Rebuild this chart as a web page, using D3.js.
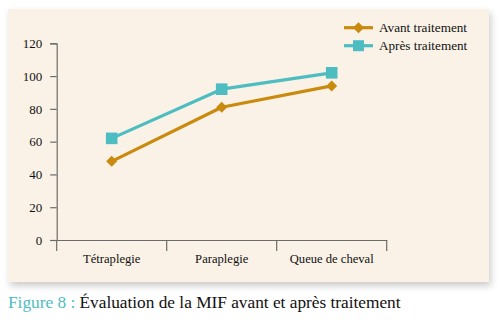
<!DOCTYPE html>
<html><head><meta charset="utf-8">
<script src="https://cdn.jsdelivr.net/npm/d3@7"></script>
<style>html,body{margin:0;padding:0;background:#fff;}svg{display:block;}</style>
</head><body>
<svg id="chart" width="500" height="322"></svg>
<script>
const categories = ["Tétraplegie", "Paraplegie", "Queue de cheval"];
const avant = [48, 81, 94];
const apres = [62, 92, 102];
const seriesNames = ["Avant traitement", "Après traitement"];
const yTicks = [0, 20, 40, 60, 80, 100, 120];

const svg = d3.select("#chart");
const font = "'Liberation Serif', 'DejaVu Serif', serif";
const cAvant = "#C98A0E", cApres = "#4DBDC1", axisCol = "#6b6b6b";

const defs = svg.append("defs");
const f = defs.append("filter").attr("id","sh").attr("x","-10%").attr("y","-10%").attr("width","120%").attr("height","125%");
f.append("feDropShadow").attr("dx",2).attr("dy",4).attr("stdDeviation",3.5).attr("flood-color","#000").attr("flood-opacity",0.2);

svg.append("rect").attr("x",8).attr("y",9).attr("width",481).attr("height",273)
  .attr("fill","#FAF2E7").attr("filter","url(#sh)");

const x = d3.scaleBand().domain(categories).range([56.7, 386.7]).padding(0);
const y = d3.scaleLinear().domain([0,120]).range([240, 43.3]);

// y axis
const yAxis = svg.append("g").attr("transform","translate(56.7,0)")
  .call(d3.axisLeft(y).tickValues(yTicks).tickSize(6.5).tickPadding(8));
yAxis.select(".domain").attr("stroke",axisCol).attr("stroke-width",1.2);
yAxis.selectAll(".tick line").attr("stroke",axisCol).attr("stroke-width",1.2);
yAxis.selectAll("text").attr("font-family",font).attr("font-size",13).attr("fill","#111");

// x axis
const xAxis = svg.append("g").attr("transform","translate(0,240)")
  .call(d3.axisBottom(x).tickSize(0).tickPadding(14));
xAxis.select(".domain").attr("stroke",axisCol).attr("stroke-width",1.2);
xAxis.selectAll("text").attr("font-family",font).attr("font-size",12.6).attr("fill","#111");
const bounds = [x.range()[0]].concat(categories.map(c => x(c) + x.bandwidth()));
svg.append("g").selectAll("line").data(bounds).join("line")
  .attr("x1",d=>d).attr("x2",d=>d).attr("y1",240).attr("y2",251)
  .attr("stroke",axisCol).attr("stroke-width",1.2);

const cx = c => x(c) + x.bandwidth()/2;
const line = d3.line().x((d,i)=>cx(categories[i])).y(d=>y(d));

function diamond(g, px, py, s, col){
  g.append("path").attr("d",`M${px},${py-s}L${px+s},${py}L${px},${py+s}L${px-s},${py}Z`).attr("fill",col);
}
function square(g, px, py, s, col){
  g.append("rect").attr("x",px-s).attr("y",py-s).attr("width",2*s).attr("height",2*s).attr("fill",col);
}

const gA = svg.append("g");
gA.append("path").datum(avant).attr("d",line).attr("fill","none").attr("stroke",cAvant).attr("stroke-width",3.2).attr("stroke-linejoin","round");
avant.forEach((v,i)=>diamond(gA, cx(categories[i]), y(v), 5.5, cAvant));

const gB = svg.append("g");
gB.append("path").datum(apres).attr("d",line).attr("fill","none").attr("stroke",cApres).attr("stroke-width",3.2).attr("stroke-linejoin","round");
apres.forEach((v,i)=>square(gB, cx(categories[i]), y(v), 5.8, cApres));

// legend
const lg = svg.append("g");
[[cAvant,"d"],[cApres,"s"]].forEach((m,i)=>{
  const ly = 27.7 + i*18;
  lg.append("line").attr("x1",344).attr("x2",373).attr("y1",ly).attr("y2",ly).attr("stroke",m[0]).attr("stroke-width",3.2);
  if (m[1]==="d") diamond(lg, 358.5, ly, 5.5, m[0]); else square(lg, 358.5, ly, 5.5, m[0]);
  lg.append("text").attr("x",379).attr("y",ly+4.3).attr("font-family",font).attr("font-size",13.2).attr("fill","#111").text(seriesNames[i]);
});

// caption
const cap = svg.append("text").attr("x",8).attr("y",308).attr("font-family",font).attr("font-size",17.3);
cap.append("tspan").attr("fill","#4DBDC1").text("Figure 8 : ");
cap.append("tspan").attr("fill","#111").text("Évaluation de la MIF avant et après traitement");
</script>
</body></html>
